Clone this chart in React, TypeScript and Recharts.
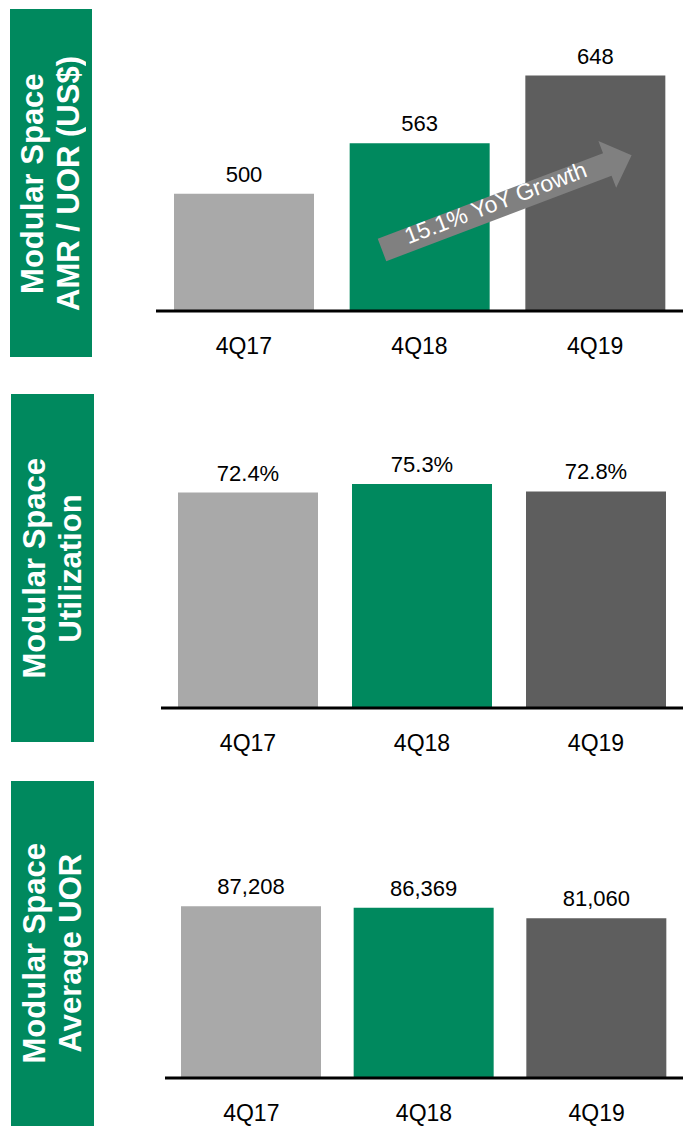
import { BarChart, Bar, XAxis, YAxis, Cell, LabelList } from "recharts";

const quarters = ["4Q17", "4Q18", "4Q19"];
const amrPerUor = [500, 563, 648];
const utilization = [72.4, 75.3, 72.8];
const averageUor = [87208, 86369, 81060];
const barColors = ["#A9A9A9", "#00895E", "#5E5E5E"];

const FONT = "'Liberation Sans', Arial, sans-serif";
const GREEN = "#00895E";

interface PanelProps {
  title: string[];
  box: { left: number; top: number; width: number; height: number };
  values: number[];
  format: (v: number) => string;
  domain: [number, number];
  top: number;
  height: number;
  plotLeft: number;
  plotTop: number;
  plotBottom: number;
}

function Panel({ title, box, values, format, domain, top, height, plotLeft, plotTop, plotBottom }: PanelProps) {
  const data = quarters.map((q, i) => ({ quarter: q, value: values[i] }));
  const axisH = 40;
  return (
    <>
      <div
        style={{
          position: "absolute",
          left: box.left,
          top: box.top,
          width: box.width,
          height: box.height,
          background: GREEN,
          display: "flex",
          alignItems: "center",
          justifyContent: "center",
        }}
      >
        <div
          style={{
            writingMode: "vertical-rl",
            transform: "rotate(180deg)",
            color: "#fff",
            fontFamily: FONT,
            fontWeight: "bold",
            fontSize: 31,
            lineHeight: "36px",
            textAlign: "center",
            whiteSpace: "nowrap",
          }}
        >
          {title.map((t) => (
            <div key={t}>{t}</div>
          ))}
        </div>
      </div>
      <div style={{ position: "absolute", left: plotLeft, top }}>
        <BarChart
          width={683 - plotLeft}
          height={height}
          data={data}
          margin={{ top: plotTop - top, right: 0, left: 0, bottom: top + height - plotBottom - axisH }}
        >
          <YAxis hide domain={domain} />
          <XAxis
            dataKey="quarter"
            height={axisH}
            interval={0}
            tickLine={false}
            tickMargin={21}
            axisLine={{ stroke: "#000", strokeWidth: 3 }}
            tick={{ fontSize: 23, fill: "#000", fontFamily: FONT }}
          />
          <Bar dataKey="value" barSize={140} isAnimationActive={false}>
            {data.map((d, i) => (
              <Cell key={d.quarter} fill={barColors[i]} />
            ))}
            <LabelList
              dataKey="value"
              position="top"
              offset={12}
              formatter={(v: unknown) => format(Number(v))}
              fill="#000"
              fontSize={22}
              fontFamily={FONT}
            />
          </Bar>
        </BarChart>
      </div>
    </>
  );
}

function GrowthArrow() {
  const len = 267;
  const head = 26;
  return (
    <svg
      width={683}
      height={1126}
      style={{ position: "absolute", left: 0, top: 0, pointerEvents: "none" }}
    >
      <g transform="translate(382,250) rotate(-20.8)">
        <polygon
          points={`0,-12 ${len - head},-12 ${len - head},-25 ${len},0 ${len - head},25 ${len - head},12 0,12`}
          fill="#808080"
        />
        <text
          x={123}
          y={-2}
          textAnchor="middle"
          dominantBaseline="middle"
          fill="#fff"
          fontSize={23}
          fontFamily={FONT}
        >
          15.1% YoY Growth
        </text>
      </g>
    </svg>
  );
}

export default function App() {
  return (
    <div style={{ position: "absolute", left: 0, top: 0, width: 683, height: 1126, background: "#fff" }}>
      <Panel
        title={["Modular Space", "AMR / UOR (US$)"]}
        box={{ left: 10, top: 9, width: 82, height: 348 }}
        values={amrPerUor}
        format={(v) => String(v)}
        domain={[353, 700]}
        top={0}
        height={370}
        plotLeft={156}
        plotTop={34}
        plotBottom={311}
      />
      <Panel
        title={["Modular Space", "Utilization"]}
        box={{ left: 11, top: 394, width: 83, height: 348 }}
        values={utilization}
        format={(v) => `${v.toFixed(1)}%`}
        domain={[0, 80]}
        top={380}
        height={380}
        plotLeft={161}
        plotTop={470}
        plotBottom={708}
      />
      <Panel
        title={["Modular Space", "Average UOR"]}
        box={{ left: 11, top: 781, width: 83, height: 345 }}
        values={averageUor}
        format={(v) => v.toLocaleString("en-US")}
        domain={[0, 100000]}
        top={770}
        height={356}
        plotLeft={165}
        plotTop={881}
        plotBottom={1078}
      />
      <GrowthArrow />
    </div>
  );
}
